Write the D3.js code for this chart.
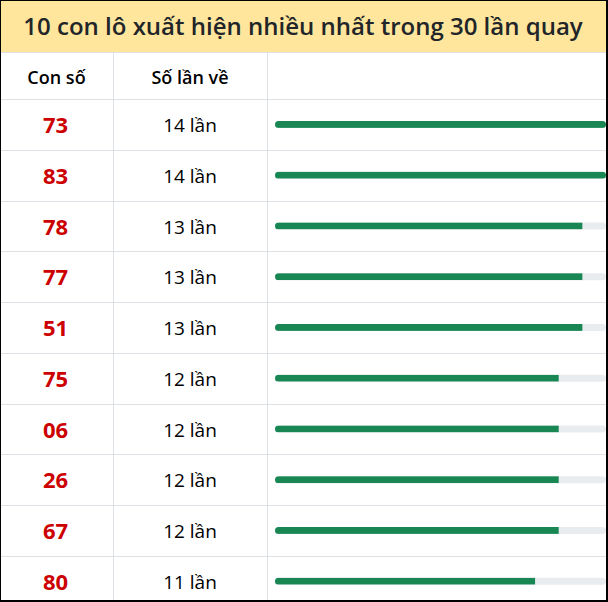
<!DOCTYPE html>
<html>
<head>
<meta charset="utf-8">
<script src="https://cdn.jsdelivr.net/npm/d3@7"></script>
<style>
html,body{margin:0;padding:0;background:#fff;}
svg{display:block;}
</style>
</head>
<body>
<script>
const title = "10 con lô xuất hiện nhiều nhất trong 30 lần quay";
const headers = ["Con số", "Số lần về", ""];
const numbers = ["73","83","78","77","51","75","06","26","67","80"];
const counts = [14,14,13,13,13,12,12,12,12,11];
const unit = "lần";

const W = 608, H = 602;
const titleH = 52, headH = 47, rowH = 50.75;
const colX = [0, 113, 267, W];
const trackX0 = 275, trackX1 = 606, barH = 7;
const font = "'Open Sans', 'Noto Sans', sans-serif";

const svg = d3.select("body").append("svg").attr("width", W).attr("height", H);

// title band
svg.append("rect").attr("x",0).attr("y",0).attr("width",W).attr("height",titleH).attr("fill","#ffe69c");
svg.append("text").attr("x",W/2 - 1).attr("y",titleH/2 + 1).attr("dy","0.35em")
  .attr("text-anchor","middle").attr("font-family",font).attr("font-weight",600)
  .attr("font-size",24).attr("fill","#212529").text(title);

const y = d3.scaleBand().domain(d3.range(numbers.length))
  .range([titleH+headH, titleH+headH+rowH*numbers.length]).paddingInner(0).paddingOuter(0);
const x = d3.scaleLinear().domain([0, d3.max(counts)]).range([trackX0, trackX1]);

// grid
const grid = svg.append("g").attr("stroke","#dee2e6").attr("stroke-width",1);
const hLines = [titleH, titleH+headH].concat(numbers.map((d,i)=>y(i)+rowH));
grid.selectAll("line.h").data(hLines).join("line").attr("class","h")
  .attr("x1",0).attr("x2",W).attr("y1",d=>Math.round(d)+0.5).attr("y2",d=>Math.round(d)+0.5);
grid.selectAll("line.v").data([colX[1],colX[2]]).join("line").attr("class","v")
  .attr("x1",d=>d+0.5).attr("x2",d=>d+0.5).attr("y1",titleH).attr("y2",H);

// header
svg.selectAll("text.hd").data(headers.slice(0,2)).join("text").attr("class","hd")
  .attr("x",(d,i)=>(colX[i]+colX[i+1])/2).attr("y",titleH+headH/2 + 2).attr("dy","0.35em")
  .attr("text-anchor","middle").attr("font-family",font).attr("font-weight",600)
  .attr("font-size",18).attr("fill","#000").text(d=>d);

// rows
const rows = svg.selectAll("g.row").data(numbers).join("g").attr("class","row")
  .attr("transform",(d,i)=>`translate(0,${y(i)+rowH/2})`);
rows.append("text").attr("x",(colX[0]+colX[1])/2 - 1).attr("y",1).attr("dy","0.35em")
  .attr("text-anchor","middle").attr("font-family",font).attr("font-weight",700)
  .attr("font-size",22).attr("fill","#cc0000").text(d=>d);
rows.append("text").attr("x",(colX[1]+colX[2])/2).attr("y",1).attr("dy","0.35em")
  .attr("text-anchor","middle").attr("font-family",font).attr("font-weight",400)
  .attr("font-size",19).attr("fill","#000").text((d,i)=>counts[i]+" "+unit);

const defs = svg.append("defs");
numbers.forEach((d,i)=>{
  defs.append("clipPath").attr("id","clip"+i).append("rect")
    .attr("x",trackX0).attr("y",-barH/2).attr("width",trackX1-trackX0).attr("height",barH)
    .attr("rx",barH/2);
});
rows.append("rect").attr("x",trackX0).attr("y",-barH/2).attr("width",trackX1-trackX0)
  .attr("height",barH).attr("rx",barH/2).attr("fill","#e9ecef");
rows.append("rect").attr("clip-path",(d,i)=>`url(#clip${i})`)
  .attr("x",trackX0).attr("y",-barH/2).attr("width",(d,i)=>x(counts[i])-trackX0)
  .attr("height",barH).attr("fill","#198754");

// outer frame
const fr = svg.append("g").attr("fill","#000");
fr.append("rect").attr("x",0).attr("y",0).attr("width",W).attr("height",1);
fr.append("rect").attr("x",0).attr("y",0).attr("width",1).attr("height",H);
fr.append("rect").attr("x",W-2).attr("y",0).attr("width",2).attr("height",H);
fr.append("rect").attr("x",0).attr("y",H-2).attr("width",W).attr("height",2);
</script>
</body>
</html>
